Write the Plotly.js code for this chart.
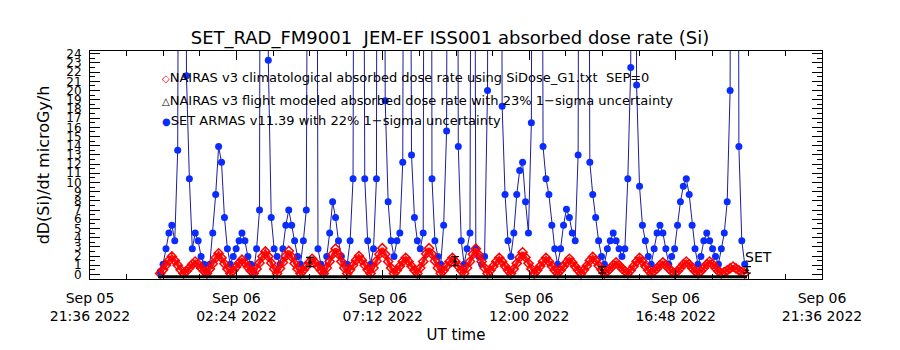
<!DOCTYPE html>
<html><head><meta charset="utf-8">
<script src="https://cdn.plot.ly/plotly-3.0.1.min.js"></script>
<style>html,body{margin:0;padding:0;background:#fff}#chart{width:900px;height:350px}</style>
</head><body><div id="chart"></div>
<script>
// ---- sampling of the series (UTC) ----
const seriesStart = [2022, 8, 5, 23, 54, 0];   // Sep 05 2022 23:54 UT
const cadenceSeconds = 345;

// NAIRAS v3 climatological absorbed dose rate (microGy/h)
const nairasClimatological = [
  0.1,0.5,1.0,1.5,1.95,1.5,1.0,0.5,
  0.1,0.35,0.7,1.1,1.4,1.1,0.7,0.35,
  0.1,0.6,1.15,1.8,2.3,1.8,1.15,0.6,
  0.1,0.4,0.8,1.25,1.6,1.25,0.8,0.4,
  0.1,0.6,1.25,1.95,2.5,1.95,1.25,0.6,
  0.1,0.65,1.3,2.0,2.55,1.9,1.2,0.6,
  0.1,0.45,0.85,1.3,1.7,1.3,0.85,0.45,
  0.1,0.7,1.4,2.2,2.8,2.2,1.4,0.7,
  0.1,0.5,1.0,1.55,2.0,1.55,1.0,0.5,
  0.1,0.7,1.45,2.2,2.85,2.2,1.4,0.7,
  0.1,0.45,0.9,1.4,1.8,1.4,0.9,0.45,
  0.1,0.7,1.4,2.25,2.85,2.2,1.45,0.7,
  0.1,0.45,0.9,1.4,1.8,1.4,0.9,0.45,
  0.1,0.7,1.4,2.2,2.8,2.15,1.4,0.7,
  0.1,0.45,0.9,1.4,1.8,1.4,0.9,0.45,
  0.1,0.6,1.2,1.85,2.4,1.85,1.2,0.6,
  0.1,0.45,0.9,1.4,1.8,1.4,0.9,0.45,
  0.1,0.45,0.85,1.3,1.7,1.3,0.85,0.45,
  0.1,0.5,0.95,1.5,1.9,1.5,0.95,0.5,
  0.1,0.35,0.65,1.0,1.3,1.0,0.65,0.35,
  0.1,0.45,0.9,1.4,1.8,1.4,0.9,0.45,
  0.1,0.35,0.65,1.0,1.3,1.0,0.65,0.35,
  0.1,0.35,0.7,1.1,1.4,1.1,0.7,0.35,
  0.1,0.35,0.7,1.1,1.4,1.1,0.7,0.35,
  0.1,0.25,0.45,0.65,0.85,0.65,0.45,0.25,
  0.1
];

// SET ARMAS v11.39 measured absorbed dose rate (microGy/h)
const setArmas = [
  0.3,1.1,2.8,4.5,5.35,3.65,13.5,150,
  220,21.6,10.4,2.8,4.5,3.65,1.95,1.1,
  0.3,1.1,4.5,8.7,13.9,12.2,6.2,2.8,
  1.1,1.95,2.8,3.65,4.5,3.65,1.95,1.1,
  0.3,2.8,7.0,180,160,23.3,6.2,2.8,
  1.95,1.1,2.8,5.35,7.0,5.35,3.65,1.95,
  1.1,3.65,7.0,90,250,120,2.8,1.1,
  0.3,1.95,4.5,7.9,6.2,3.65,1.95,1.1,
  1.1,3.65,10.4,140,300,110,10.4,3.65,
  1.1,2.8,10.4,200,150,18.9,7.9,3.65,
  1.95,3.65,4.5,12.2,130,100,13.0,6.2,
  3.65,2.8,4.5,160,220,10.4,3.65,1.95,
  1.1,5.35,15.6,190,260,170,13.9,3.65,
  1.1,2.8,4.5,120,2.8,1.95,1.1,1.95,
  20.0,150,300,280,140,18.3,8.7,3.65,
  1.95,4.5,8.7,11.3,12.2,7.9,4.5,16.5,
  200,260,130,13.9,10.4,8.7,5.35,2.8,
  1.1,2.8,5.35,7.1,6.2,4.5,3.65,13.0,
  150,240,120,12.2,8.7,6.2,3.65,1.95,
  1.1,2.8,3.65,4.5,3.65,2.8,1.95,2.8,
  10.4,22.5,200,20.6,9.6,5.35,3.65,1.95,
  1.1,2.8,4.5,5.35,4.5,2.8,1.1,1.95,
  2.8,5.35,7.9,9.6,10.4,8.7,5.35,2.8,
  1.1,1.95,3.65,4.5,3.65,2.8,1.95,1.1,
  2.8,4.5,7.9,20.0,200,180,13.9,3.65,
  1.1
];

// NAIRAS v3 flight modeled absorbed dose rate (with 1-sigma bars)
const flightTimes = ['2022-09-06 04:48:47','2022-09-06 09:34:00','2022-09-06 14:23:13','2022-09-06 19:08:28'];
const flightValues = [1.35, 1.45, 0.5, 0.5];
const flightSigma = [0.5, 0.5, 0.35, 0.35];
const flightTrackTimes = ['2022-09-05 23:50:00','2022-09-06 19:08:30'];
const flightTrackValues = [-0.25, -0.25];

// axes
const xRange = ['2022-09-05 21:36','2022-09-06 21:36'];
const xTickVals = ['2022-09-05 21:36','2022-09-06 02:24','2022-09-06 07:12','2022-09-06 12:00','2022-09-06 16:48','2022-09-06 21:36'];
const xTickText = ['Sep 05<br>21:36 2022','Sep 06<br>02:24 2022','Sep 06<br>07:12 2022','Sep 06<br>12:00 2022','Sep 06<br>16:48 2022','Sep 06<br>21:36 2022'];
const yTickVals = [0,1,2,3,4,5,6,7,8,9,10,11,12,13,14,15,16,17,18,19,20,21,22,23,24];
const yTickText = ['0','1','2','3','4','5','6','7','8','9','10','11','12','13','14','15','16','17','18','19','20','21','22','23','24'];

const legendTexts = [
  'NAIRAS v3 climatological absorbed dose rate using SiDose_G1.txt&nbsp;&nbsp;SEP=0',
  'NAIRAS v3 flight modeled absorbed dose rate with 23% 1\u2212sigma uncertainty',
  'SET ARMAS v11.39 with 22% 1\u2212sigma uncertainty'
];

const base = Date.UTC(...seriesStart);
const tGrid = setArmas.map((_, i) => base + i * cadenceSeconds * 1000);

const FONT = 'DejaVu Sans, sans-serif';

const traces = [
  {x: tGrid, y: setArmas, type: 'scatter', mode: 'lines+markers',
   line: {color: '#1c1ca0', width: 1},
   marker: {symbol: 'circle', size: 7, color: '#0a2cff'}, name: 'SET ARMAS'},
  {x: tGrid, y: nairasClimatological, type: 'scatter', mode: 'lines+markers',
   line: {color: '#ff1010', width: 3.5},
   marker: {symbol: 'diamond-open', size: 7, color: '#ff0000', line: {width: 1.5}}, name: 'NAIRAS clim'},
  {x: flightTrackTimes, y: flightTrackValues, type: 'scatter', mode: 'lines',
   line: {color: '#000', width: 3}, name: 'NAIRAS flight'},
  {x: flightTimes, y: flightValues, type: 'scatter', mode: 'markers',
   marker: {symbol: 'triangle-up-open', size: 3, color: '#000'},
   error_y: {type: 'data', array: flightSigma, visible: true, color: '#000', thickness: 1.2, width: 4},
   name: 'NAIRAS flight err'}
];

const annotations = [
  {text: '<span style="color:#e00000;font-size:10px">\u25C7</span>' + legendTexts[0], x: 0.095, y: 0.882},
  {text: '<span style="color:#000;font-size:10px"><b>\u25B3</b></span>' + legendTexts[1], x: 0.095, y: 0.785},
  {text: '<span style="color:#0a2cff;font-size:10px">\u25CF</span>' + legendTexts[2], x: 0.095, y: 0.697},
].map(a => Object.assign({xref: 'paper', yref: 'paper', xanchor: 'left', yanchor: 'middle', showarrow: false,
  font: {family: FONT, size: 13, color: '#000'}}, a));
annotations.push({text: 'SET', xref: 'paper', yref: 'paper', x: 0.9126, y: 0.0965, xanchor: 'center', yanchor: 'middle',
  showarrow: false, font: {family: FONT, size: 14, color: '#000'}});

const layout = {
  width: 900, height: 350,
  margin: {l: 90, r: 78, t: 51, b: 71},
  paper_bgcolor: '#fff', plot_bgcolor: '#fff',
  showlegend: false,
  font: {family: FONT, color: '#000'},
  title: {text: 'SET_RAD_FM9001&nbsp;&nbsp;JEM-EF ISS001 absorbed dose rate (Si)',
          font: {family: FONT, size: 18, color: '#000'}, x: 0.5, xanchor: 'center', y: 0.891, yanchor: 'middle'},
  xaxis: {type: 'date', range: xRange, tickmode: 'array', tickvals: xTickVals, ticktext: xTickText,
          ticks: 'inside', ticklen: 9, tickcolor: '#000', tickwidth: 1,
          showline: true, linecolor: '#000', linewidth: 1, mirror: 'allticks',
          showgrid: false, zeroline: false, ticklabelstandoff: 6,
          tickfont: {family: FONT, size: 14, color: '#000'},
          minor: {tickmode: 'linear', tick0: '2022-09-05 21:36', dtick: 4320000, ticks: 'inside', ticklen: 5, tickcolor: '#000', showgrid: false},
          title: {text: 'UT time', font: {family: FONT, size: 15, color: '#000'}, standoff: 6}},
  yaxis: {range: [-0.5, 24.3], tickmode: 'array', tickvals: yTickVals, ticktext: yTickText,
          ticks: 'inside', ticklen: 10, tickcolor: '#000', tickwidth: 1,
          showline: true, linecolor: '#000', linewidth: 1, mirror: 'allticks',
          showgrid: false, zeroline: false, ticklabelstandoff: 5,
          tickfont: {family: FONT, size: 12, color: '#000'},
          minor: {tickmode: 'linear', tick0: 0, dtick: 0.5, ticks: 'inside', ticklen: 5, tickcolor: '#000', showgrid: false},
          title: {text: 'dD(Si)/dt microGy/h', font: {family: FONT, size: 16, color: '#000'}, standoff: 12}},
  annotations: annotations
};

Plotly.newPlot('chart', traces, layout, {displayModeBar: false, staticPlot: true});
</script>
</body></html>
